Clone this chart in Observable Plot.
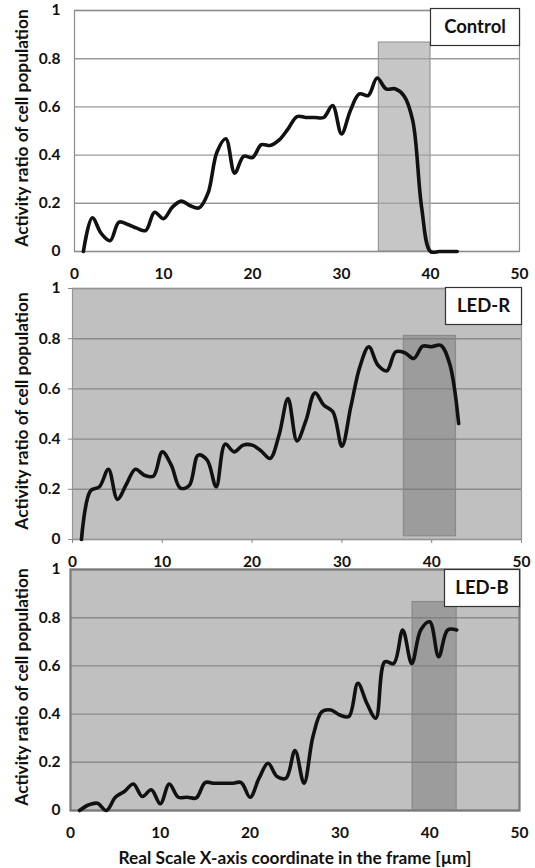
<!DOCTYPE html>
<html><head><meta charset="utf-8">
<script src="https://cdn.jsdelivr.net/npm/d3@7"></script>
<script src="https://cdn.jsdelivr.net/npm/@observablehq/plot@0.6"></script>
<style>
body{margin:0;background:#fff;}
#chart{width:535px;}
#chart svg{display:block;overflow:visible;}
</style></head><body><div id="chart"></div>
<script>
// ---- data ----
const xCoord = [1,2,3,4,5,6,7,8,9,10,11,12,13,14,15,16,17,18,19,20,21,22,23,24,25,26,27,28,29,30,31,32,33,34,35,36,37,38,39,40,41,42,43];
const controlValues = [0,0.14,0.075,0.045,0.122,0.112,0.097,0.087,0.163,0.136,0.184,0.209,0.19,0.181,0.242,0.412,0.468,0.325,0.395,0.39,0.443,0.44,0.463,0.509,0.56,0.556,0.556,0.556,0.606,0.488,0.585,0.654,0.647,0.72,0.675,0.675,0.647,0.544,0.184,0,0,0,0];
const ledRValues = [0,0.194,0.21,0.28,0.16,0.22,0.28,0.256,0.252,0.349,0.296,0.205,0.215,0.336,0.316,0.21,0.38,0.349,0.376,0.376,0.353,0.323,0.416,0.562,0.393,0.475,0.584,0.535,0.509,0.372,0.53,0.688,0.768,0.695,0.672,0.748,0.744,0.721,0.77,0.768,0.774,0.70,0.462];
const ledBValues = [0,0.023,0.03,0,0.055,0.079,0.11,0.058,0.086,0.028,0.11,0.055,0.055,0.052,0.116,0.113,0.113,0.113,0.116,0.055,0.134,0.196,0.141,0.134,0.249,0.113,0.307,0.41,0.417,0.396,0.39,0.528,0.445,0.383,0.617,0.61,0.749,0.61,0.749,0.783,0.638,0.749,0.749];
const panelNames = ["Control","LED-R","LED-B"];
const windowX1 = [34.2, 36.9, 38.1];
const windowX2 = [40.0, 42.7, 43.0];
const windowY1 = [0, 0.013, 0];
const windowY2 = [0.867, 0.811, 0.865];
const xTicks = [0,10,20,30,40,50];
const yTicks = [0,0.2,0.4,0.6,0.8,1];
const yTitle = "Activity ratio of cell population";
const xTitle = "Real Scale X-axis coordinate in the frame [µm]";

const seriesValues = [controlValues, ledRValues, ledBValues];

// ---- layout / style per panel ----
const layout = [
  {height:282, mt:10, mb:31, ml:74, mr:16, bg:"#ffffff", grid:"#999999", frame:"#8c8c8c", frameW:1.2,
   winFill:"#a8a8a8", winOp:0.65, winStroke:"#9a9a9a", tick:0, boxW:89, boxH:37, boxTop:-2},
  {height:282, mt:6, mb:25, ml:72, mr:14, bg:"#c0c0c0", grid:"#8a8a8a", frame:"#959595", frameW:1.2,
   winFill:"#777777", winOp:0.5, winStroke:"#8a8a8a", tick:4, boxW:76, boxH:37, boxTop:-1},
  {height:304, mt:5, mb:58, ml:70, mr:16, bg:"#c0c0c0", grid:"#8a8a8a", frame:"#7a7a7a", frameW:2.2,
   winFill:"#777777", winOp:0.5, winStroke:"#8a8a8a", tick:0, boxW:75, boxH:37, boxTop:0}
];

const fmt = d => String(d);
const root = document.getElementById("chart");
const tickFont = 15.5, titleFont = 17.3;

panelNames.forEach((name, i) => {
  const L = layout[i];
  const data = xCoord.map((x, k) => ({x, y: seriesValues[i][k]}));
  const win = [{x1: windowX1[i], x2: windowX2[i], y1: windowY1[i], y2: windowY2[i]}];
  const plotW = 535 - L.ml - L.mr;
  const plotH = L.height - L.mt - L.mb;
  const marks = [
    Plot.frame({fill: L.bg, stroke: "none"}),
    Plot.gridY(yTicks, {stroke: L.grid, strokeOpacity: 1, strokeWidth: 1.4}),
    Plot.rect(win, {x1: "x1", x2: "x2", y1: "y1", y2: "y2", fill: L.winFill, fillOpacity: L.winOp, stroke: L.winStroke, strokeWidth: 1.2}),
    Plot.frame({stroke: L.frame, strokeWidth: L.frameW}),
    Plot.axisX({ticks: xTicks, tickFormat: fmt, tickSize: L.tick, tickPadding: 16 - L.tick, stroke: "#888", label: null, fontSize: tickFont}),
    Plot.axisY({ticks: yTicks, tickFormat: fmt, tickSize: L.tick, tickPadding: (L.ml - 60) - L.tick, stroke: "#888", label: null, fontSize: tickFont}),
    Plot.line(data, {x: "x", y: "y", curve: "catmull-rom", stroke: "#111", strokeWidth: 3.6, strokeLinejoin: "round", strokeLinecap: "round"}),
    Plot.frame({fill: "#ffffff", stroke: "#333", strokeWidth: 1.2,
      insetLeft: plotW - L.boxW, insetRight: 0, insetTop: L.boxTop, insetBottom: plotH - L.boxH - L.boxTop}),
    Plot.text([name], {text: d => d, frameAnchor: "top-right", textAnchor: "middle", lineAnchor: "middle",
      dx: -L.boxW / 2, dy: L.boxTop + L.boxH / 2, fontSize: 18.5, fontWeight: "bold", fill: "#111"}),
    Plot.text([yTitle], {text: d => d, frameAnchor: "left", textAnchor: "middle", lineAnchor: "middle",
      rotate: -90, dx: 22 - L.ml, dy: -3, fontSize: titleFont, fontWeight: "bold", fill: "#111"})
  ];
  if (i === 2) {
    marks.push(Plot.text([xTitle], {text: d => d, frameAnchor: "bottom", textAnchor: "middle", lineAnchor: "middle",
      dy: 48, fontSize: titleFont, fontWeight: "bold", fill: "#111"}));
  }
  const svg = Plot.plot({
    width: 535, height: L.height,
    marginTop: L.mt, marginBottom: L.mb, marginLeft: L.ml, marginRight: L.mr,
    x: {domain: [0, 50], axis: null},
    y: {domain: [0, 1], axis: null},
    style: {fontFamily: "Lato, 'Open Sans', sans-serif", fontSize: tickFont + "px", fontWeight: "bold",
      color: "#111", background: "transparent", overflow: "visible"},
    marks
  });
  root.appendChild(svg);
});
</script></body></html>
